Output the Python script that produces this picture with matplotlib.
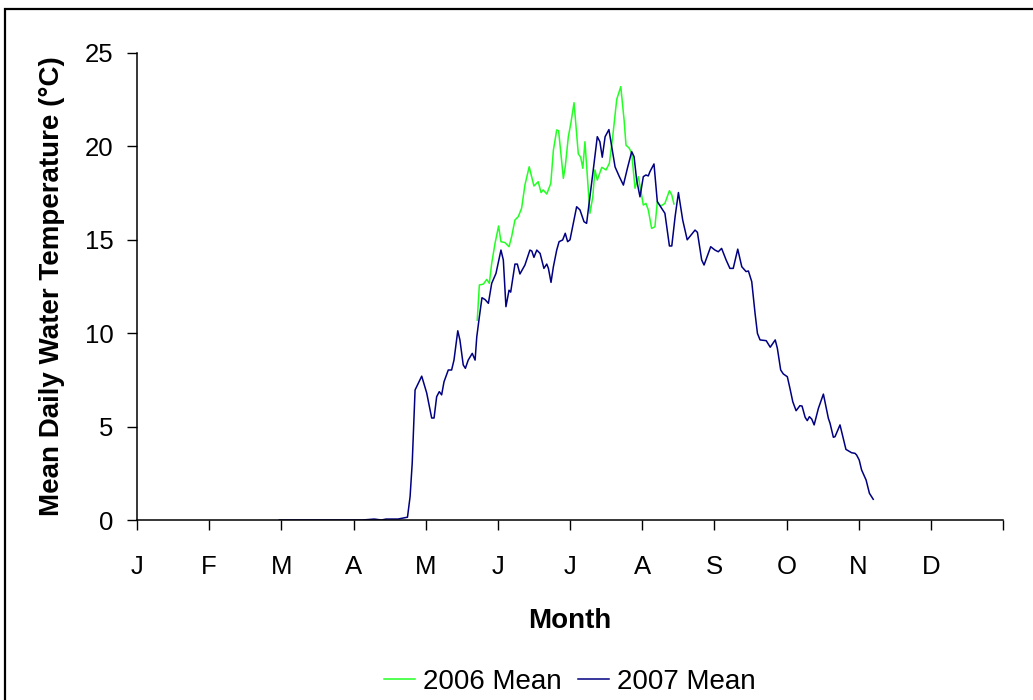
import numpy as np
import matplotlib
matplotlib.use("Agg")
import matplotlib.pyplot as plt
from matplotlib.patches import Rectangle

plt.rcParams['font.family'] = ['Liberation Sans', 'DejaVu Sans']

# day of year / mean daily water temperature (deg C)
day_2006 = [143.4, 144.3, 146.0, 147.4, 148.5, 149.5, 150.9, 152.4, 153.4, 155.1,
            156.8, 157.9, 159.3, 160.7, 162.1, 163.5, 165.3, 167.3, 169.1, 170.3,
            171.2, 172.7, 174.4, 175.5, 176.9, 177.7, 179.7, 180.5, 181.8, 182.9,
            184.2, 186.0, 187.0, 187.9, 188.8, 190.9, 192.1, 193.0, 194.0, 195.9,
            197.7, 199.1, 200.5, 202.2, 203.9, 205.3, 206.1, 207.5, 208.5, 209.9,
            211.3, 212.3, 213.4, 214.5, 215.5, 216.9, 218.3, 219.3, 220.7, 222.5,
            224.4, 225.4, 226.3]
temp_2006 = [10.7, 12.58, 12.63, 12.88, 12.67, 13.74, 14.81, 15.74, 14.9, 14.85,
             14.63, 15.17, 16.06, 16.24, 16.69, 17.93, 18.91, 17.88, 18.11, 17.53,
             17.67, 17.45, 18.02, 19.8, 20.88, 20.84, 18.29, 18.91, 20.52, 21.27,
             22.34, 19.6, 19.42, 18.83, 20.25, 16.42, 17.3, 18.74, 18.2, 18.88,
             18.74, 19.1, 20.52, 22.52, 23.2, 21.41, 20.07, 19.9, 19.63, 17.76,
             18.38, 17.67, 16.86, 16.95, 16.6, 15.61, 15.7, 17.04, 16.8, 16.95,
             17.63, 17.4, 16.92]

day_2007 = [60, 95, 100, 103, 105, 110, 112, 114, 115.1, 116.0,
            117.2, 120.0, 122.1, 124.2, 125.2, 126.3, 127.4, 128.4, 129.4, 131.2,
            132.6, 133.6, 135.2, 136.1, 137.5, 138.4, 139.6, 141.3, 142.5, 143.2,
            144.3, 145.4, 146.7, 148.1, 149.5, 151.3, 153.4, 154.4, 155.5, 156.8,
            157.5, 159.3, 160.3, 161.4, 163.5, 165.6, 166.4, 167.3, 168.5, 169.9,
            171.5, 172.7, 173.4, 174.5, 175.5, 176.9, 177.9, 179.4, 180.5, 181.5,
            182.5, 183.6, 185.3, 186.7, 188.4, 189.5, 190.9, 192.3, 194.0, 195.1,
            196.1, 197.3, 198.9, 200.1, 201.5, 203.3, 205.0, 206.7, 208.5, 209.5,
            210.6, 212.0, 213.4, 214.5, 215.5, 216.2, 217.9, 219.3, 220.7, 222.5,
            224.4, 225.4, 226.8, 228.2, 230.0, 231.9, 233.8, 235.2, 236.2, 238.0,
            239.0, 241.8, 243.6, 245.0, 246.4, 248.3, 249.9, 251.3, 253.2, 254.9,
            256.7, 257.7, 259.1, 260.5, 261.5, 262.6, 265.2, 266.9, 269.0, 269.9,
            271.3, 272.4, 274.1, 275.2, 276.4, 277.8, 279.4, 280.3, 281.6, 282.5,
            283.4, 284.4, 285.4, 287.2, 289.3, 291.4, 292.1, 293.5, 294.2, 296.3,
            298.8, 301.2, 302.6, 303.3, 304.4, 305.4, 307.3, 308.7, 310.3]
temp_2007 = [0.0, 0.0, 0.05, 0.0, 0.05, 0.05, 0.1, 0.15, 1.25, 3.05,
             6.96, 7.7, 6.8, 5.46, 5.46, 6.6, 6.87, 6.7, 7.4, 8.03,
             8.03, 8.56, 10.13, 9.64, 8.3, 8.12, 8.56, 8.92, 8.56, 9.8,
             10.88, 11.9, 11.8, 11.6, 12.67, 13.2, 14.45, 13.92, 11.42, 12.3,
             12.2, 13.7, 13.7, 13.17, 13.65, 14.45, 14.4, 14.06, 14.45, 14.27,
             13.47, 13.7, 13.47, 12.72, 13.56, 14.45, 14.9, 14.99, 15.35, 14.9,
             15.0, 15.7, 16.77, 16.6, 15.97, 15.88, 17.3, 18.74, 20.52, 20.25,
             19.42, 20.52, 20.9, 19.98, 18.9, 18.38, 17.93, 18.83, 19.72, 19.45,
             18.2, 17.3, 18.38, 18.47, 18.42, 18.65, 19.06, 17.04, 16.77, 16.42,
             14.67, 14.67, 16.24, 17.53, 16.06, 15.0, 15.3, 15.52, 15.4, 13.92,
             13.65, 14.63, 14.45, 14.36, 14.54, 13.92, 13.47, 13.47, 14.5, 13.56,
             13.3, 13.33, 12.76, 11.06, 9.99, 9.64, 9.6, 9.25, 9.64, 9.19,
             8.03, 7.82, 7.67, 7.05, 6.33, 5.85, 6.12, 6.1, 5.5, 5.32,
             5.53, 5.4, 5.09, 5.98, 6.74, 5.44, 5.18, 4.43, 4.46, 5.09,
             3.78, 3.6, 3.57, 3.48, 3.21, 2.68, 2.14, 1.43, 1.11]

month_labels = ['J', 'F', 'M', 'A', 'M', 'J', 'J', 'A', 'S', 'O', 'N', 'D', '']
y_ticks = [0, 5, 10, 15, 20, 25]

W, H = 1033, 700
fig = plt.figure(figsize=(W / 100, H / 100), dpi=100)
ax = fig.add_axes([137 / W, 1 - 520 / H, 866 / W, 467 / H])

ax.plot(day_2006, temp_2006, color='#22ff22', lw=1.1, label='2006 Mean')
ax.plot(day_2007, temp_2007, color='#000080', lw=1.1, label='2007 Mean')

ax.set_xlim(0, 365)
ax.set_ylim(0, 25)
ax.set_xticks(np.arange(13) * 365 / 12)
ax.set_xticklabels(month_labels)
ax.set_yticks(y_ticks)

for s in ['top', 'right']:
    ax.spines[s].set_visible(False)
for s in ['left', 'bottom']:
    ax.spines[s].set_linewidth(1.1)

ax.tick_params(axis='x', direction='out', length=7, width=1, labelsize=18.5, pad=18)
ax.tick_params(axis='y', direction='out', length=7, width=1, labelsize=18.5, pad=10)

ax.set_xlabel('Month', fontsize=20, fontweight='bold', labelpad=21)
ax.set_ylabel('Mean Daily Water Temperature (°C)', fontsize=20,
              fontweight='bold', labelpad=14)

fig.legend(loc='center', bbox_to_anchor=(570 / W, 1 - 682 / H), ncol=2,
           frameon=False, fontsize=20, handlelength=1.1, handletextpad=0.3,
           columnspacing=0.6)

# outer chart frame (cropped at right and bottom)
fig.patches.append(Rectangle((5 / W, -0.1), 1.2, 1 - 9 / H + 0.1,
                             transform=fig.transFigure, fill=False,
                             edgecolor='black', lw=1.6))

fig.savefig('out.png', dpi=100)
